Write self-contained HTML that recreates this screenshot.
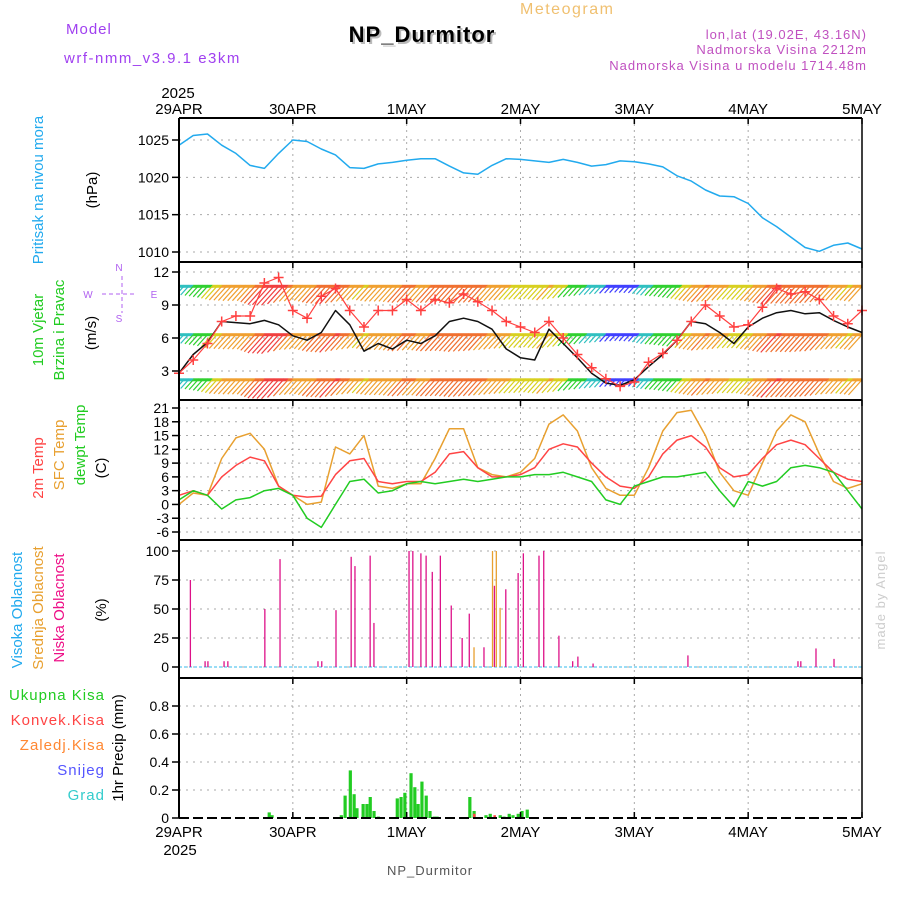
<!DOCTYPE html>
<html><head><meta charset="utf-8">
<style>
body{margin:0;background:#fff;}
svg{display:block;font-family:"Liberation Sans",sans-serif;}
</style></head>
<body>
<svg id="chart" width="900" height="900" viewBox="0 0 900 900" xmlns="http://www.w3.org/2000/svg">
<rect width="900" height="900" fill="#fff"/>
<text x="66" y="34" font-size="15" fill="#a040f0" letter-spacing="1">Model</text>
<text x="64" y="63" font-size="15" fill="#a040f0" letter-spacing="1.5">wrf-nmm_v3.9.1 e3km</text>
<text x="520" y="14" font-size="16" fill="#f0c070" letter-spacing="1.5">Meteogram</text>
<text x="424" y="44" font-size="22" font-weight="bold" fill="#bbb" text-anchor="middle" letter-spacing="1">NP_Durmitor</text>
<text x="422" y="42" font-size="22" font-weight="bold" fill="#000" text-anchor="middle" letter-spacing="1">NP_Durmitor</text>
<text x="867" y="39" font-size="13" fill="#c050c0" text-anchor="end" letter-spacing="1">lon,lat (19.02E, 43.16N)</text>
<text x="867" y="54" font-size="13" fill="#c050c0" text-anchor="end" letter-spacing="1">Nadmorska Visina 2212m</text>
<text x="867" y="70" font-size="13" fill="#c050c0" text-anchor="end" letter-spacing="1">Nadmorska Visina u modelu 1714.48m</text>
<text transform="translate(885,600) rotate(-90)" font-size="13" fill="#ccc" text-anchor="middle" letter-spacing="1">made by Angel</text>
<text x="387" y="875" font-size="13" fill="#555" letter-spacing="1">NP_Durmitor</text>
<g id="grid"></g>
<g id="marks"></g>
<g id="axes"></g>
<!-- side labels -->
<g font-size="15">
<text transform="translate(43,190) rotate(-90)" fill="#22aaee" text-anchor="middle">Pritisak na nivou mora</text>
<text transform="translate(97,190) rotate(-90)" fill="#000" text-anchor="middle">(hPa)</text>
<text transform="translate(43,330) rotate(-90)" fill="#22cc22" text-anchor="middle">10m Vjetar</text>
<text transform="translate(64,330) rotate(-90)" fill="#22cc22" text-anchor="middle">Brzina i Pravac</text>
<text transform="translate(96,333) rotate(-90)" fill="#000" text-anchor="middle">(m/s)</text>
<text transform="translate(43,468) rotate(-90)" fill="#ff4444" text-anchor="middle">2m Temp</text>
<text transform="translate(64,455) rotate(-90)" fill="#e8a030" text-anchor="middle">SFC Temp</text>
<text transform="translate(85,445) rotate(-90)" fill="#22cc22" text-anchor="middle">dewpt Temp</text>
<text transform="translate(106,468) rotate(-90)" fill="#000" text-anchor="middle">(C)</text>
<text transform="translate(22,610) rotate(-90)" fill="#22aaee" text-anchor="middle">Visoka Oblacnost</text>
<text transform="translate(43,608) rotate(-90)" fill="#e8a030" text-anchor="middle">Srednja Oblacnost</text>
<text transform="translate(64,608) rotate(-90)" fill="#ee1188" text-anchor="middle">Niska Oblacnost</text>
<text transform="translate(106,610) rotate(-90)" fill="#000" text-anchor="middle">(%)</text>
<text x="105" y="700" fill="#22cc22" text-anchor="end" letter-spacing="1">Ukupna  Kisa</text>
<text x="105" y="725" fill="#ff4444" text-anchor="end" letter-spacing="1">Konvek.Kisa</text>
<text x="105" y="750" fill="#ff8833" text-anchor="end" letter-spacing="1">Zaledj.Kisa</text>
<text x="105" y="775" fill="#5555ff" text-anchor="end" letter-spacing="1">Snijeg</text>
<text x="105" y="800" fill="#33cccc" text-anchor="end" letter-spacing="1">Grad</text>
<text transform="translate(123,748) rotate(-90)" fill="#000" text-anchor="middle">1hr Precip (mm)</text>
</g>
<g fill="#b060f0" stroke="#b060f0" font-size="10">
<text x="119" y="271" text-anchor="middle" stroke="none">N</text>
<text x="119" y="322" text-anchor="middle" stroke="none">S</text>
<text x="88" y="298" text-anchor="middle" stroke="none">W</text>
<text x="154" y="298" text-anchor="middle" stroke="none">E</text>
<line x1="102" y1="294" x2="136" y2="294" stroke-dasharray="4,3"/>
<line x1="122" y1="276" x2="122" y2="313" stroke-dasharray="4,3"/>
</g>
</svg>
<script>
const hours = [0,3,6,9,12,15,18,21,24,27,30,33,36,39,42,45,48,51,54,57,60,63,66,69,72,75,78,81,84,87,90,93,96,99,102,105,108,111,114,117,120,123,126,129,132,135,138,141,144];
const dayLabels = ['29APR','30APR','1MAY','2MAY','3MAY','4MAY','5MAY'];
const pressure = [1024.3,1025.6,1025.8,1024.3,1023.2,1021.6,1021.2,1023.2,1025,1024.8,1023.8,1023,1021.3,1021.2,1021.8,1022,1022.3,1022.5,1022.5,1021.5,1020.6,1020.4,1021.6,1022.5,1022.4,1022.2,1022,1022.4,1022,1021.5,1021.7,1022.2,1022.1,1021.8,1021.4,1020.2,1019.5,1018.3,1017.5,1017.4,1016.5,1014.6,1013.4,1012,1010.6,1010.1,1010.9,1011.2,1010.4];
const windSpeed = [2.8,4,5.5,7.5,8,8,11,11.5,8.5,7.8,9.8,10.5,8.5,7,8.5,8.5,9.5,8.5,9.5,9.2,10,9.3,8.5,7.5,7,6.5,7.5,6,4.5,3.3,2.3,1.6,2,3.8,4.6,5.8,7.5,9,8,7,7.2,8.8,10.5,10,10.2,9.5,8,7.3,8.5];
const windSpeed2 = [2.8,4.5,5.6,7.5,7.4,7.3,7.6,7.2,6.2,5.8,6.5,8.5,7.2,4.8,5.5,5,5.8,5.5,6.2,7.5,7.8,7.5,6.8,5,4.2,4,6.8,5.5,4.2,2.8,1.9,1.7,2.2,3.4,4.5,5.8,7.5,7.3,6.5,5.5,7,7.8,8.3,8.5,8.2,8.3,7.6,7,6.5];
const barbLevels = [10.7,6.3,2.2];
const temp2m = [2,3,2,6,8.5,10.3,9.5,4,2,1.6,1.8,6.5,9.5,10,5,4.5,5,5,7,11,11.5,8,6,6,6.5,8,12,13.2,12.5,9,6,4,3.5,6,11,14,15,12.5,8,6,6.5,10,13,14,13,10,7,5.5,5];
const tempSfc = [0,2.5,2,10,14.5,15.5,12,4,2,0,0.5,12.5,11,15,4,3.5,4.5,4.5,10,16.5,16.5,8,6.5,6,7,10,17.5,19.5,16,8,3.5,2,2,8,16,20,20.5,15,7,3,2,9,16,19.5,18,11,5,3.5,4.5];
const dewpt = [1,3,2,-1,1,1.5,3,3.5,2,-3,-5,0,5,5.5,2.5,3,4.5,5,4.5,5,5.5,5,5.5,6,6,6.5,6.5,7,6,5,1,0,4,5,6,6,6.5,7,3,-0.5,5,4,5,8,8.5,8,7,3,-1];
const lowCloudHours = [2.4,5.5,6.1,9.5,10.3,18.1,21.3,29.3,30.1,33.1,36.3,37.1,40.3,41.1,48.5,49.3,51,52.1,53.4,55.1,57.4,59.7,61.2,64.3,66.5,68.9,71.5,72.6,75.9,76.9,80.1,83,84.1,87.3,107.3,130.5,131.1,134.3,138.1];
const lowCloud = [75,5,5,5,5,50,93,5,5,49,95,87,96,38,100,100,98,96,82,96,53,25,46,17,70,67,81,98,96,100,27,5,9,3,10,5,5,16,7];
const midCloudHours = [62.2,66.1,66.9,67.7];
const midCloud = [17,100,100,51];
const precipHours = [19,19.6,34.2,35,36.1,36.9,37.5,38.8,39.6,40.3,41.1,42,46,46.8,47.6,48.9,49.7,50.4,51.2,52.1,52.9,53.8,54.4,61.3,62.2,64.7,65.6,67.7,68.5,69.6,70.4,71.5,72.3,73.4];
const precip = [0.04,0.02,0.02,0.16,0.34,0.17,0.07,0.1,0.1,0.15,0.05,0.01,0.14,0.15,0.18,0.32,0.22,0.1,0.26,0.16,0.05,0.01,0.01,0.15,0.05,0.02,0.03,0.02,0.01,0.03,0.02,0.03,0.05,0.06];
const convHours = [62.2,66.5];
const convPrecip = [0.03,0.02];

const NS='http://www.w3.org/2000/svg';
const X0=179,X1=862;
const xs = h => X0 + h*(X1-X0)/144;
const panels = {
 p:{top:118,bot:262,v0:1010,y0:252,v1:1025,y1:140},
 w:{top:262,bot:400,v0:3,y0:371,v1:12,y1:272},
 t:{top:400,bot:540,v0:-6,y0:532,v1:21,y1:408},
 c:{top:540,bot:678,v0:0,y0:667,v1:100,y1:551},
 r:{top:678,bot:818,v0:0,y0:818,v1:0.8,y1:706}
};
const ys = (p,v)=>{const P=panels[p];return P.y0+(v-P.v0)*(P.y1-P.y0)/(P.v1-P.v0);};
function el(tag,attrs,parent){const e=document.createElementNS(NS,tag);for(const k in attrs)e.setAttribute(k,attrs[k]);parent.appendChild(e);return e;}
const grid=document.getElementById('grid'),marks=document.getElementById('marks'),axes=document.getElementById('axes');
const ticks={p:[1010,1015,1020,1025],w:[3,6,9,12],t:[-6,-3,0,3,6,9,12,15,18,21],c:[0,25,50,75,100],r:[0,0.2,0.4,0.6,0.8]};
const tickFmt={p:v=>v,w:v=>v,t:v=>v,c:v=>v,r:v=>v===0?'0':v.toFixed(1)};
// grid
for(const p in ticks){
 ticks[p].forEach(v=>{
  const y=ys(p,v);
  const g=el('line',{x1:X0,x2:X1,y1:y,y2:y,stroke:'#aaa','stroke-dasharray':'2,5'},grid);
  
  
  const tk=el('line',{x1:X0-7,x2:X0,y1:y,y2:y,stroke:'#000','stroke-width':1.5},axes);
  
  
  const t=el('text',{x:X0-10,y:y+5,'font-size':14,'text-anchor':'end',fill:'#000'},axes);
  t.textContent=tickFmt[p](v);
  
  
 });
}
dayLabels.forEach((d,i)=>{
 const x=xs(i*24);
 if(i>0&&i<6){const g=el('line',{x1:x,x2:x,y1:118,y2:818,stroke:'#aaa','stroke-dasharray':'2,4'},grid);
 
 }
 const t1=el('text',{x:x,y:114,'font-size':15,'text-anchor':'middle',fill:'#000'},axes);t1.textContent=d;
 
 
 const t2=el('text',{x:x,y:837,'font-size':15,'text-anchor':'middle',fill:'#000'},axes);t2.textContent=d;
 
 
 for(let k=0;k<5;k++){const y=[118,262,400,540,678][k];
  el('line',{x1:x,x2:x,y1:y,y2:y+6,stroke:'#000','stroke-width':1.5},axes);}
 el('line',{x1:x,x2:x,y1:818,y2:812,stroke:'#000','stroke-width':1.5},axes);
});
const y1=el('text',{x:178,y:98,'font-size':15,'text-anchor':'middle'},axes);y1.textContent='2025';


const y2=el('text',{x:180,y:855,'font-size':15,'text-anchor':'middle'},axes);y2.textContent='2025';


// frames
[118,262,400,540,678].forEach(y=>el('line',{x1:X0,x2:X1,y1:y,y2:y,stroke:'#000','stroke-width':2},axes));
el('line',{x1:X0,x2:X1,y1:818,y2:818,stroke:'#000','stroke-width':2,'stroke-dasharray':'10,4'},axes);
el('line',{x1:X0,x2:X0,y1:118,y2:818,stroke:'#000','stroke-width':2},axes);
el('line',{x1:X1,x2:X1,y1:118,y2:818,stroke:'#000','stroke-width':1.5},axes);

function line(p,arr,color,name,w){
 const pts=hours.map((h,i)=>xs(h).toFixed(1)+','+ys(p,arr[i]).toFixed(1)).join(' ');
 const l=el('polyline',{points:pts,fill:'none',stroke:color,'stroke-width':w||1.5,'stroke-linejoin':'round'},marks);
 
 
}
// wind barbs
const clip=el('clipPath',{id:'wclip'},marks);el('rect',{x:X0,y:262,width:X1-X0,height:138},clip);
const wg=el('g',{'clip-path':'url(#wclip)'},marks);
function spdAt(h){const i=Math.min(hours.length-2,Math.floor(h/3));const f=(h-hours[i])/3;return windSpeed[i]*(1-f)+windSpeed[i+1]*f;}
function spdColor(s){if(s<2.5)return '#4040ff';if(s<4)return '#30c0c0';if(s<6)return '#30d030';if(s<7.5)return '#d8d020';if(s<9)return '#f0a030';if(s<10.5)return '#f07030';return '#f04040';}
barbLevels.forEach((lv,ri)=>{
 const yb=ys('w',lv);
 for(let h=0;h<=144;h++){
  const s=spdAt(h);
  const len=4+s*1.3;
  const b=el('line',{x1:xs(h),y1:yb,x2:xs(h)-len*0.9,y2:yb+len,stroke:spdColor(s),'stroke-width':1.2},wg);
  
  
  el('line',{x1:xs(h),y1:yb,x2:xs(h)+5,y2:yb,stroke:spdColor(s),'stroke-width':3},wg);
 }
});
line('p',pressure,'#22aaee','pressure-line',1.5);
line('w',windSpeed2,'#111','wind-speed-alt-line',1.5);
line('w',windSpeed,'#ff4040','wind-speed-line',1.2);
hours.forEach((h,i)=>{const x=xs(h),y=ys('w',windSpeed[i]);
 const m=el('path',{d:`M${x-5},${y}H${x+5}M${x},${y-5}V${y+5}`,stroke:'#ff4040','stroke-width':1.5},marks);
 
 
});
line('t',tempSfc,'#e8a030','sfc-temp-line',1.5);
line('t',temp2m,'#ff4444','temp-2m-line',1.5);
line('t',dewpt,'#22cc22','dewpt-line',1.5);
// clouds
el('line',{x1:X0,x2:X1,y1:ys('c',0),y2:ys('c',0),stroke:'#33bbee','stroke-width':1,'stroke-dasharray':'3,2'},marks);
lowCloudHours.forEach((h,i)=>{const b=el('line',{x1:xs(h),x2:xs(h),y1:ys('c',0),y2:ys('c',lowCloud[i]),stroke:'#dd1188','stroke-width':1.3},marks);
 
 });
midCloudHours.forEach((h,i)=>{const b=el('line',{x1:xs(h),x2:xs(h),y1:ys('c',0),y2:ys('c',midCloud[i]),stroke:'#e8a030','stroke-width':1.3},marks);
 
 });
// precip
precipHours.forEach((h,i)=>{const y=ys('r',precip[i]);const b=el('rect',{x:xs(h)-1.5,y:y,width:3.2,height:818-y,fill:'#22cc22'},marks);
 
 });
convHours.forEach((h,i)=>{const y=ys('r',convPrecip[i]);const b=el('rect',{x:xs(h)-1,y:y,width:2.5,height:818-y,fill:'#ff4444'},marks);
 
 });
</script>
</body></html>
